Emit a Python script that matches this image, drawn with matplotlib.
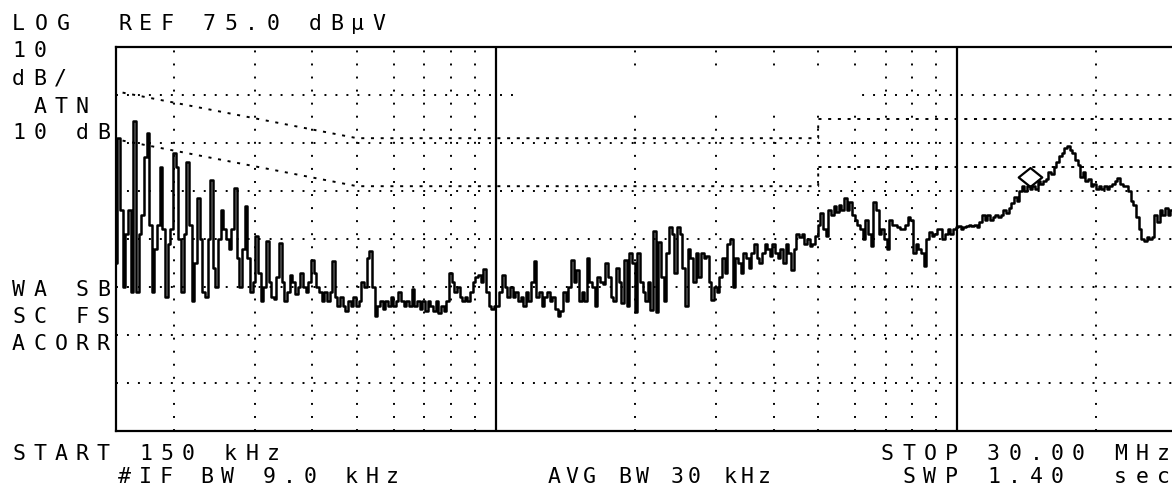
import numpy as np
import matplotlib
matplotlib.use("Agg")
import matplotlib.pyplot as plt
from matplotlib.path import Path
from matplotlib.patches import Rectangle

plt.rcParams['lines.scale_dashes'] = False

# ---------------- data ----------------
start_mhz = 0.15
stop_mhz = 30.0
ref_level = 75.0          # dBuV at top graticule line
db_per_div = 10
n_div = 8
n_points = 401

levels = [
    30, 56, 41, 25, 36, 41, 24, 59.5, 24, 36,
    40, 52, 57, 38, 24, 33, 38, 50, 37, 23,
    34, 37, 53, 50, 35, 24, 36, 51, 38, 22,
    30, 43.5, 35, 24, 23, 35, 47.3, 29, 25, 35,
    41, 37, 35, 33, 37, 45.6, 31, 25, 33, 41.8,
    31, 24, 26, 35.6, 28, 22, 25, 34.6, 26, 23,
    22.5, 27, 34.2, 26, 22, 24, 27.6, 26, 23.6, 25,
    28, 25, 24, 26, 30.7, 28, 25, 24, 22, 24,
    22, 24, 30.4, 23, 21, 23, 21, 20, 22, 21,
    23, 21, 22, 26, 25, 31, 32.4, 25, 19, 21,
    22, 20.5, 22, 21, 23, 21, 22, 24, 22, 21,
    22, 21, 24.5, 21, 22, 20.5, 22, 20, 22, 21,
    20, 22, 19.5, 21, 20, 22, 28, 26, 24, 25,
    23, 22, 23, 22, 24, 26, 27, 27.5, 26, 28.7,
    24, 21, 20.5, 21, 21, 24, 27.6, 25, 23, 25,
    23, 24, 22, 23, 21, 24, 22, 26, 30.4, 23,
    24, 21, 23, 24, 22, 23, 20.5, 19, 20, 24,
    22, 25, 30.7, 26, 28.6, 22, 24, 22, 31, 26,
    25, 21, 27, 26, 25.7, 30.1, 27, 23, 22, 29,
    26, 21.7, 30.7, 21, 32, 30, 19.7, 32, 26, 24,
    22, 26, 20.3, 36.6, 19.7, 34.3, 27, 22, 32, 37.4,
    36, 28, 37.4, 36, 29, 21, 33, 31, 26, 32,
    27, 32, 31, 31.5, 26, 22.3, 25, 24, 27, 31,
    28, 34, 35, 25, 31, 30, 28, 32, 31, 29,
    32, 34, 31, 30, 32, 34, 33, 31.4, 34, 32,
    31, 33, 30.1, 34, 32, 28.6, 33, 36, 35.5, 36,
    34, 35, 33.5, 34, 35.6, 38, 40.5, 37, 35.6, 41,
    40, 41.8, 40.6, 42, 41, 43.6, 41, 42.8, 40, 39,
    38, 37, 35, 39, 36, 33.5, 42.8, 41, 36, 37,
    35, 33, 39, 38, 38, 37.5, 37, 37, 38, 39.6,
    39, 32, 34, 33, 32, 29.3, 35, 36.5, 35.7, 36,
    37, 37, 35, 36, 37, 36, 37, 37.6, 37.8, 37,
    37.5, 37.8, 38, 37.8, 38, 37.6, 38.5, 40, 39, 40,
    39, 39.5, 40, 39.5, 40, 41, 40.5, 41.5, 42.5, 43.8,
    43, 45, 46, 45, 46, 45.5, 46, 45.5, 47, 46.5,
    47, 47.5, 49, 48.5, 50, 51, 52.2, 53, 54, 54.3,
    53.5, 53, 51.5, 50.5, 48, 49, 47, 47.5, 46, 46.5,
    45.5, 46, 45.5, 46, 45.5, 46, 46.5, 47, 47.8, 46.5,
    46, 46, 45, 43, 42, 39.5, 37, 35, 34.5, 35.5,
    35, 35.5, 40, 38.5, 41, 40, 41.5, 40, 41, 40.5,
    41,
]

# limit lines (quasi-peak and average)
qp_limit_freq = [0.155, 0.5, 5.0, 5.0, 30.0]
qp_limit_level = [65.5, 56, 56, 60, 60]
avg_limit_freq = [0.155, 0.5, 5.0, 5.0, 30.0]
avg_limit_level = [55.5, 46, 46, 50, 50]

# graticule
minor_freqs = [0.2, 0.3, 0.4, 0.5, 0.6, 0.7, 0.8, 0.9,
               2, 3, 4, 5, 6, 7, 8, 9, 20]
decade_freqs = [1, 10]
grid_levels = [65, 55, 45, 35, 25, 15, 5]

# marker
marker_freq = 14.4
marker_level = 48.0

# blanked (erased) screen area
blank_freq = (1.13, 6.08)
blank_level = (62.5, 70.6)

# annotation texts
txt_log = "LOG"
txt_ref = "REF 75.0 dB\u00b5V"
txt_scale1 = "10"
txt_scale2 = "dB/"
txt_atn1 = " ATN"
txt_atn2 = "10 dB"
txt_wa = "WA SB"
txt_sc = "SC FS"
txt_acorr = "ACORR"
txt_start = "START 150 kHz"
txt_stop = "STOP 30.00 MHz"
txt_ifbw = "#IF BW 9.0 kHz"
txt_avgbw = "AVG BW 30 kHz"
txt_swp = " SWP 1.40  sec"

# ---------------- figure ----------------
W, H = 1172, 489
fig = plt.figure(figsize=(W / 100, H / 100), dpi=100)
fig.patch.set_facecolor('white')

left_px, right_px, top_px, bot_px = 116, 1177, 48, 432
ax = fig.add_axes([left_px / W, 1 - bot_px / H,
                   (right_px - left_px) / W, (bot_px - top_px) / H])
ax.set_xscale('log')
ax.set_xlim(start_mhz, stop_mhz)
ax.set_ylim(ref_level - n_div * db_per_div, ref_level)
ax.set_xticks([])
ax.set_yticks([])
ax.xaxis.set_minor_locator(matplotlib.ticker.NullLocator())
for sp in ax.spines.values():
    sp.set_linewidth(1.6)
    sp.set_color('black')

dot_h = (0, (1.4, 6.5))
dot_v = (0, (1.4, 8.0))
for lv in grid_levels:
    ax.axhline(lv, color='black', lw=1.4, linestyle=dot_h, zorder=1)
for f in minor_freqs:
    ax.axvline(f, color='black', lw=1.4, linestyle=dot_v, zorder=1)
for f in decade_freqs:
    ax.axvline(f, color='black', lw=1.6, zorder=2)

# erased area
ax.add_patch(Rectangle((blank_freq[0], blank_level[0]),
                       blank_freq[1] - blank_freq[0],
                       blank_level[1] - blank_level[0],
                       facecolor='white', edgecolor='none', zorder=1.5))

lim_style = (0, (2.2, 4.8))
ax.plot(qp_limit_freq, qp_limit_level, color='black', lw=1.4,
        linestyle=lim_style, zorder=3)
ax.plot(avg_limit_freq, avg_limit_level, color='black', lw=1.4,
        linestyle=lim_style, zorder=3)

freqs = np.geomspace(start_mhz, stop_mhz, n_points)
ax.plot(freqs, levels, color='black', lw=1.8, drawstyle='steps-mid',
        zorder=4)

diamond = Path([(-1, 0), (0, 0.8), (1, 0), (0, -0.8), (-1, 0)],
               [Path.MOVETO, Path.LINETO, Path.LINETO, Path.LINETO,
                Path.CLOSEPOLY])
ax.plot([marker_freq], [marker_level], marker=diamond, markersize=17,
        markerfacecolor='none', markeredgecolor='black',
        markeredgewidth=1.6, linestyle='none', zorder=5)

# ---------------- screen text on a character grid ----------------
PITCH = 21.2
FS = 15.5
CAP = 0.729 * FS * 100 / 72
FONT = dict(family='DejaVu Sans Mono', fontsize=FS, color='black')


def hp_text(s, x_start, yc, pitch=PITCH):
    for k, ch in enumerate(s):
        if ch == ' ':
            continue
        x = x_start + k * pitch + 6.5
        y = yc + CAP / 2
        fig.text(x / W, 1 - y / H, ch, ha='center', va='baseline', **FONT)


hp_text(txt_log, 12, 22, pitch=22.5)
hp_text(txt_ref, 118, 22)
hp_text(txt_scale1, 12, 49)
hp_text(txt_scale2, 12, 77)
hp_text(txt_atn1, 12, 105)
hp_text(txt_atn2, 12, 131)
hp_text(txt_wa, 12, 288)
hp_text(txt_sc, 12, 315)
hp_text(txt_acorr, 12, 342)
hp_text(txt_start, 12, 452)
hp_text(txt_stop, 881, 452)
hp_text(txt_ifbw, 118, 475, pitch=20.6)
hp_text(txt_avgbw, 548, 475, pitch=17.5)
hp_text(txt_swp, 881, 475)

fig.savefig('out.png', dpi=100, facecolor='white')
